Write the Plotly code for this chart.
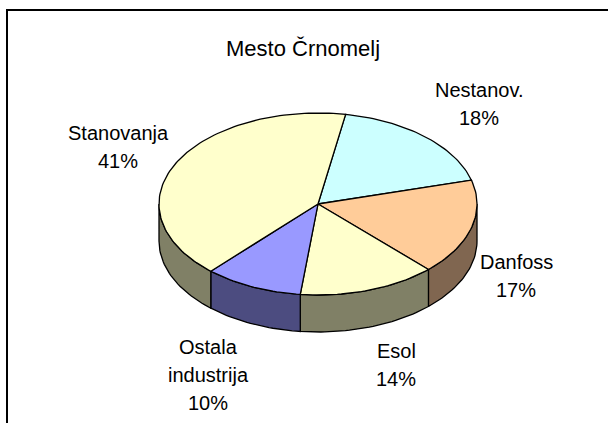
import numpy as np
import plotly.graph_objects as go

# ---- data ----
categories = ["Nestanov.", "Danfoss", "Esol", "Ostala industrija", "Stanovanja"]
label_lines = [["Nestanov."], ["Danfoss"], ["Esol"], ["Ostala", "industrija"], ["Stanovanja"]]
values = [18, 17, 14, 10, 41]
top_colors = ["#CCFFFF", "#FFCC99", "#FFFFCC", "#9999FF", "#FFFFCC"]
side_colors = ["#668080", "#806650", "#808066", "#4C4C80", "#808066"]
title = "Mesto Črnomelj"

# ---- geometry / style ----
W, H = 608, 423
cx, cy, rx, ry, depth = 318, 204, 159, 91, 37
start_deg = 10.0
label_pos = [(479, 90), (516, 262), (396, 351), (208, 347), (118, 133)]
line_gap = 28
label_font = dict(family="Liberation Sans, Arial, sans-serif", size=20, color="black")


def arc(a0, a1, n=None, dy=0.0):
    if n is None:
        n = max(int(abs(a1 - a0) / 1.5) + 2, 3)
    t = np.radians(np.linspace(a0, a1, n))
    return cx + rx * np.sin(t), cy - ry * np.cos(t) + dy


fig = go.Figure()
total = float(sum(values))
bounds = []
a = start_deg
for v in values:
    b = a + 360.0 * v / total
    bounds.append((a, b))
    a = b

# side walls (front half: 90..270 deg clockwise from top)
for (a0, a1), sc in zip(bounds, side_colors):
    for shift in (0, -360):
        s0, s1 = max(a0 + shift, 90), min(a1 + shift, 270)
        if s1 > s0:
            xt, yt = arc(s0, s1)
            xb, yb = arc(s0, s1, dy=depth)
            xs = np.concatenate([xt, xb[::-1], xt[:1]])
            ys = np.concatenate([yt, yb[::-1], yt[:1]])
            fig.add_trace(go.Scatter(x=xs, y=ys, mode="lines", fill="toself",
                                     fillcolor=sc, line=dict(color="black", width=1.3),
                                     hoverinfo="skip", showlegend=False))

# top faces
for (a0, a1), tc in zip(bounds, top_colors):
    xa, ya = arc(a0, a1)
    xs = np.concatenate([[cx], xa, [cx]])
    ys = np.concatenate([[cy], ya, [cy]])
    fig.add_trace(go.Scatter(x=xs, y=ys, mode="lines", fill="toself",
                             fillcolor=tc, line=dict(color="black", width=1.3),
                             hoverinfo="skip", showlegend=False))

annotations = []
for lines, v, (lx, ly) in zip(label_lines, values, label_pos):
    for i, txt in enumerate(lines + [f"{v}%"]):
        annotations.append(dict(x=lx, y=ly + i * line_gap, text=txt, showarrow=False,
                                xref="x", yref="y", xanchor="center", yanchor="middle",
                                font=label_font))
annotations.append(dict(x=303, y=48, text=title, showarrow=False, xref="x", yref="y",
                        xanchor="center", yanchor="middle",
                        font=dict(family="Liberation Sans, Arial, sans-serif", size=22,
                                  color="black")))

fig.update_layout(
    width=W, height=H, autosize=False,
    margin=dict(l=0, r=0, t=0, b=0),
    paper_bgcolor="white", plot_bgcolor="white",
    xaxis=dict(range=[0, W], visible=False, fixedrange=True),
    yaxis=dict(range=[H, 0], visible=False, fixedrange=True),
    annotations=annotations,
    shapes=[dict(type="rect", xref="x", yref="y", x0=7, y0=10, x1=W + 10, y1=H + 10,
                 line=dict(color="black", width=2), fillcolor="rgba(0,0,0,0)",
                 layer="below")],
)

fig.write_html("out.html")
